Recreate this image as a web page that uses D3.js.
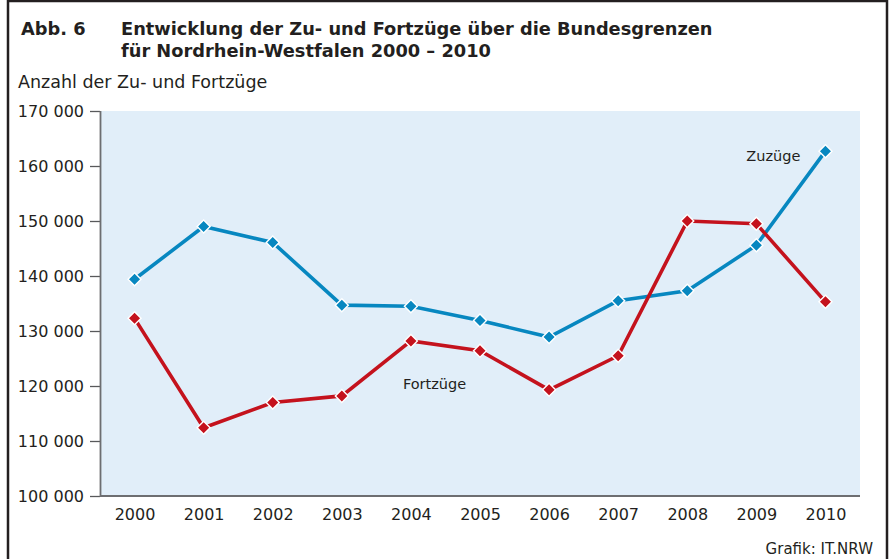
<!DOCTYPE html>
<html>
<head>
<meta charset="utf-8">
<script src="https://cdn.jsdelivr.net/npm/d3@7"></script>
<style>
  body { margin: 0; background: #fff; }
  svg { display: block; font-family: "DejaVu Sans", sans-serif; }
</style>
</head>
<body>
<svg width="895" height="559"></svg>
<script>
// data
var years = [2000, 2001, 2002, 2003, 2004, 2005, 2006, 2007, 2008, 2009, 2010];
var zuzuege = [139400, 149000, 146100, 134700, 134500, 131900, 128900, 135500, 137300, 145600, 162700];
var fortzuege = [132300, 112400, 117000, 118200, 128200, 126400, 119300, 125500, 150000, 149500, 135300];
var yTicks = [100000, 110000, 120000, 130000, 140000, 150000, 160000, 170000];

var svg = d3.select("svg"),
    margin = {top: 111, right: 35, bottom: 63, left: 100},
    width = +svg.attr("width") - margin.left - margin.right,
    height = +svg.attr("height") - margin.top - margin.bottom;

var blue = "#0787c0", red = "#c4121d", ink = "#231f20";

// frame
svg.append("path")
    .attr("d", "M8,560 V1 H887 V560")
    .attr("fill", "none")
    .attr("stroke", ink)
    .attr("stroke-width", 2.5);

// title
var title = svg.append("g").attr("fill", ink).attr("font-weight", "bold").attr("font-size", 17.8);
title.append("text").attr("x", 21).attr("y", 35).text("Abb. 6");
title.append("text").attr("x", 121).attr("y", 35).text("Entwicklung der Zu- und Fortzüge über die Bundesgrenzen");
title.append("text").attr("x", 121).attr("y", 57).text("für Nordrhein-Westfalen 2000 – 2010");

svg.append("text")
    .attr("x", 18).attr("y", 88)
    .attr("font-size", 17.5)
    .attr("fill", ink)
    .text("Anzahl der Zu- und Fortzüge");

svg.append("text")
    .attr("x", 873).attr("y", 554)
    .attr("text-anchor", "end")
    .attr("font-size", 15)
    .attr("fill", ink)
    .text("Grafik: IT.NRW");

var g = svg.append("g").attr("transform", "translate(" + margin.left + "," + margin.top + ")");

var x = d3.scalePoint()
    .domain(years)
    .range([0, width])
    .padding(0.5);

var y = d3.scaleLinear()
    .domain([100000, 170000])
    .range([height, 0]);

g.append("rect")
    .attr("width", width)
    .attr("height", height)
    .attr("fill", "#e1eef9");

var fmt = function(d) { return d3.format(",")(d).replace(",", " "); };

var yAxis = g.append("g")
    .call(d3.axisLeft(y).tickValues(yTicks).tickSize(10).tickPadding(6).tickFormat(fmt));
yAxis.select(".domain").remove();
yAxis.selectAll("line").attr("stroke", "#58595b").attr("stroke-width", 1.3);
yAxis.selectAll("text").attr("font-size", 16).attr("fill", ink).attr("font-family", "DejaVu Sans, sans-serif").attr("dy", "0.36em");

var xAxis = g.append("g")
    .attr("transform", "translate(0," + height + ")")
    .call(d3.axisBottom(x).tickSize(0).tickPadding(13).tickFormat(d3.format("d")));
xAxis.select(".domain").remove();
xAxis.selectAll("text").attr("font-size", 16).attr("fill", ink).attr("font-family", "DejaVu Sans, sans-serif");

// axis lines
g.append("path")
    .attr("d", "M0.5,0 V" + height + " H" + width)
    .attr("fill", "none")
    .attr("stroke", "#6d6e71")
    .attr("stroke-width", 1.8);

var line = d3.line()
    .x(function(d, i) { return x(years[i]); })
    .y(function(d) { return y(d); });

var series = [
  {name: "Zuzüge", values: zuzuege, color: blue},
  {name: "Fortzüge", values: fortzuege, color: red}
];

series.forEach(function(s) {
  g.append("path")
      .datum(s.values)
      .attr("fill", "none")
      .attr("stroke", s.color)
      .attr("stroke-width", 3.6)
      .attr("d", line);
});

series.forEach(function(s) {
  g.append("g")
    .selectAll("path")
    .data(s.values)
    .enter().append("path")
      .attr("transform", function(d, i) { return "translate(" + x(years[i]) + "," + y(d) + ") rotate(45)"; })
      .attr("d", "M-4.6,-4.6 H4.6 V4.6 H-4.6 Z")
      .attr("fill", s.color)
      .attr("stroke", "#fff")
      .attr("stroke-width", 1.4);
});

// series labels
g.append("text")
    .attr("x", x(2009) - 10).attr("y", y(161000))
    .attr("font-size", 14.5)
    .attr("fill", ink)
    .text("Zuzüge");

g.append("text")
    .attr("x", x(2004) - 8).attr("y", y(119500))
    .attr("font-size", 14.5)
    .attr("fill", ink)
    .text("Fortzüge");
</script>
</body>
</html>
